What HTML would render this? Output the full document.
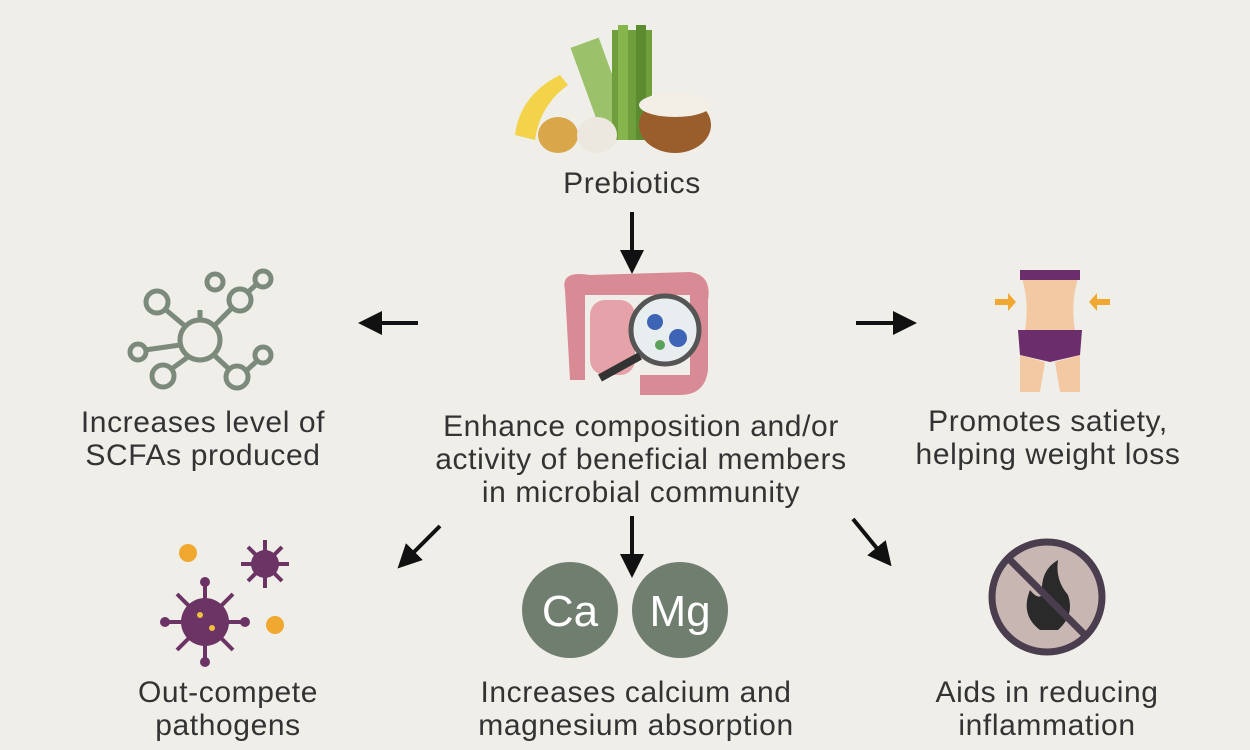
<!DOCTYPE html>
<html><head><meta charset="utf-8"><style>
html,body{margin:0;padding:0}
body{width:1250px;height:750px;background:#f0eee9;position:relative;overflow:hidden;font-family:"Liberation Sans",sans-serif;color:#333}
.t{position:absolute;text-align:center;font-size:30px;letter-spacing:0.6px;line-height:33px;transform:translateX(-50%);white-space:nowrap}
svg{position:absolute;left:0;top:0}
</style></head><body>
<svg width="1250" height="750">
<defs><marker id="ah" markerWidth="6" markerHeight="6" refX="3" refY="3" orient="auto"><path d="M0,0 L6,3 L0,6 z" fill="#111"/></marker></defs>
<g>
<path d="M515,135 Q520,95 560,75 L568,85 Q540,105 535,140 z" fill="#f2d34a"/>
<rect x="585" y="40" width="30" height="90" fill="#9bc26b" transform="rotate(-20 600 85)"/>
<rect x="612" y="30" width="40" height="110" fill="#6f9e3c"/>
<rect x="618" y="25" width="10" height="115" fill="#86b54e"/>
<rect x="636" y="25" width="10" height="115" fill="#5c8b30"/>
<ellipse cx="675" cy="125" rx="36" ry="28" fill="#9a5d2c"/>
<ellipse cx="675" cy="105" rx="36" ry="12" fill="#f4efe6"/>
<ellipse cx="558" cy="135" rx="20" ry="18" fill="#d9a64a"/>
<ellipse cx="597" cy="135" rx="20" ry="18" fill="#ece8e0"/>
</g>
<g stroke="#111" stroke-width="4" fill="none">
<line x1="632" y1="212" x2="632" y2="262" marker-end="url(#ah)"/>
<line x1="418" y1="323" x2="370" y2="323" marker-end="url(#ah)"/>
<line x1="856" y1="323" x2="905" y2="323" marker-end="url(#ah)"/>
<line x1="440" y1="526" x2="406" y2="560" marker-end="url(#ah)"/>
<line x1="632" y1="516" x2="632" y2="566" marker-end="url(#ah)"/>
<line x1="853" y1="519" x2="884" y2="557" marker-end="url(#ah)"/>
</g>
<g>
<path d="M565,290 Q560,270 590,275 L690,272 Q712,275 708,300 L708,370 Q705,395 680,395 L640,395 L640,375 L690,375 L690,295 L585,295 L585,380 L570,380 z" fill="#d98b95"/>
<rect x="590" y="300" width="45" height="75" rx="15" fill="#e5a2a8"/>
<circle cx="665" cy="330" r="34" fill="#e8eef0" stroke="#555" stroke-width="5"/>
<circle cx="655" cy="322" r="8" fill="#3e64b5"/><circle cx="678" cy="338" r="9" fill="#3e64b5"/><circle cx="660" cy="345" r="5" fill="#5aa15a"/>
<line x1="640" y1="356" x2="600" y2="378" stroke="#333" stroke-width="8"/>
</g>
<g stroke="#7c8a7c" stroke-width="5" fill="none">
<circle cx="200" cy="340" r="20"/>
<line x1="214" y1="326" x2="232" y2="308"/><circle cx="240" cy="300" r="11"/><line x1="248" y1="292" x2="257" y2="284"/><circle cx="263" cy="279" r="8"/>
<line x1="200" y1="320" x2="200" y2="310"/><circle cx="215" cy="282" r="8"/>
<line x1="185" y1="326" x2="166" y2="310"/><circle cx="157" cy="302" r="11"/>
<line x1="180" y1="345" x2="145" y2="350"/><circle cx="138" cy="352" r="8"/>
<line x1="188" y1="357" x2="170" y2="370"/><circle cx="163" cy="376" r="11"/>
<line x1="214" y1="355" x2="230" y2="370"/><circle cx="237" cy="377" r="11"/><line x1="245" y1="372" x2="258" y2="360"/><circle cx="263" cy="355" r="8"/>
</g>
<g>
<path d="M1020,272 L1080,272 Q1070,300 1075,330 L1025,330 Q1030,300 1020,272 z" fill="#f3c9a4"/>
<rect x="1020" y="270" width="60" height="10" fill="#6b2d6b"/>
<path d="M1018,330 L1082,330 L1080,355 L1050,362 L1020,355 z" fill="#6b2d6b"/>
<path d="M1020,355 L1045,362 L1040,392 L1020,392 z" fill="#f3c9a4"/>
<path d="M1080,355 L1055,362 L1060,392 L1080,392 z" fill="#f3c9a4"/>
<path d="M995,299 L1008,299 L1008,293 L1016,302 L1008,311 L1008,305 L995,305 z" fill="#f0a830"/>
<path d="M1110,299 L1097,299 L1097,293 L1089,302 L1097,311 L1097,305 L1110,305 z" fill="#f0a830"/>
</g>
<g>
<g stroke="#6b3465" stroke-width="4">
<line x1="205" y1="582" x2="205" y2="662"/><line x1="165" y1="622" x2="245" y2="622"/><line x1="177" y1="594" x2="233" y2="650"/><line x1="233" y1="594" x2="177" y2="650"/>
<line x1="265" y1="540" x2="265" y2="588"/><line x1="241" y1="564" x2="289" y2="564"/><line x1="248" y1="547" x2="282" y2="581"/><line x1="282" y1="547" x2="248" y2="581"/>
</g>
<g fill="#6b3465">
<circle cx="205" cy="622" r="24"/><circle cx="265" cy="564" r="14"/>
<circle cx="205" cy="582" r="5"/><circle cx="205" cy="662" r="5"/><circle cx="165" cy="622" r="5"/><circle cx="245" cy="622" r="5"/>
</g>
<circle cx="188" cy="553" r="9" fill="#f0a830"/><circle cx="275" cy="625" r="9" fill="#f0a830"/>
<circle cx="200" cy="615" r="3" fill="#f0c040"/><circle cx="212" cy="628" r="3" fill="#f0c040"/>
</g>
<g>
<circle cx="570" cy="610" r="48" fill="#707e70"/><circle cx="680" cy="610" r="48" fill="#707e70"/>
<text x="570" y="626" text-anchor="middle" font-size="44" fill="#fff" font-family="Liberation Sans, sans-serif">Ca</text>
<text x="680" y="626" text-anchor="middle" font-size="44" fill="#fff" font-family="Liberation Sans, sans-serif">Mg</text>
</g>
<g>
<circle cx="1047" cy="597" r="55" fill="#c7b6b2" stroke="#4a3d4e" stroke-width="7"/>
<path d="M1040,630 Q1020,615 1030,590 Q1038,600 1042,595 Q1040,570 1058,560 Q1055,580 1068,595 Q1075,615 1058,630 z" fill="#2a2a2a"/>
<line x1="1008" y1="558" x2="1086" y2="636" stroke="#4a3d4e" stroke-width="7"/>
</g>
</svg>
<div class="t" style="left:632px;top:167px">Prebiotics</div>
<div class="t" style="left:203px;top:406px">Increases level of<br>SCFAs produced</div>
<div class="t" style="left:641px;top:410px">Enhance composition and/or<br>activity of beneficial members<br>in microbial community</div>
<div class="t" style="left:1048px;top:405px">Promotes satiety,<br>helping weight loss</div>
<div class="t" style="left:228px;top:676px">Out-compete<br>pathogens</div>
<div class="t" style="left:636px;top:676px">Increases calcium and<br>magnesium absorption</div>
<div class="t" style="left:1047px;top:676px">Aids in reducing<br>inflammation</div>
</body></html>
